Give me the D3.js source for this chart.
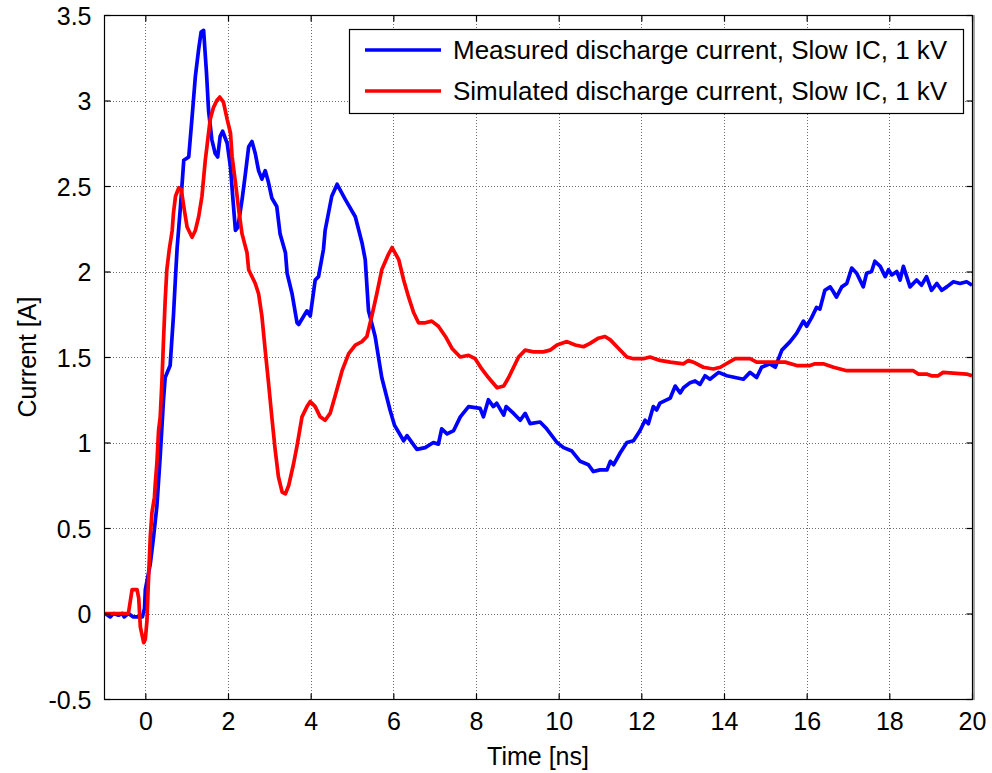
<!DOCTYPE html>
<html>
<head>
<meta charset="utf-8">
<script src="https://cdn.jsdelivr.net/npm/d3@7"></script>
<style>
  html, body { margin: 0; padding: 0; background: #fff; }
  svg { display: block; }
  text { font-family: "Liberation Sans", Arial, Helvetica, sans-serif; fill: #000; }
</style>
</head>
<body>
<svg id="chart" width="992" height="773"></svg>
<script>
// ---- data ----
const measuredTime = [-0.97,-0.85,-0.77,-0.65,-0.56,-0.51,-0.41,-0.29,-0.17,-0.07,-0.02,0.0,0.12,0.2,0.28,0.36,0.44,0.48,0.6,0.68,0.73,0.77,0.85,0.93,1.05,1.13,1.21,1.29,1.35,1.41,1.48,1.53,1.61,1.69,1.75,1.81,1.87,1.98,2.06,2.12,2.18,2.24,2.34,2.42,2.5,2.58,2.66,2.74,2.82,2.9,2.98,3.06,3.18,3.26,3.39,3.43,3.55,3.67,3.71,3.91,3.99,4.11,4.19,4.31,4.35,4.51,4.64,4.84,5.08,5.24,5.32,5.4,5.56,5.72,5.92,6.03,6.25,6.33,6.57,6.77,6.97,7.09,7.17,7.3,7.46,7.62,7.82,8.1,8.18,8.3,8.42,8.5,8.67,8.73,8.91,9.07,9.19,9.31,9.55,9.71,9.96,10.12,10.32,10.52,10.72,10.84,11.0,11.17,11.25,11.33,11.49,11.65,11.81,11.97,12.09,12.17,12.29,12.37,12.45,12.7,12.82,12.94,13.02,13.18,13.3,13.42,13.54,13.66,13.87,14.07,14.27,14.47,14.63,14.79,14.91,15.11,15.24,15.4,15.6,15.76,15.92,16.0,16.12,16.24,16.32,16.44,16.57,16.65,16.72,16.85,16.97,17.09,17.21,17.37,17.45,17.57,17.65,17.78,17.9,17.98,18.06,18.18,18.26,18.34,18.5,18.66,18.78,18.9,19.02,19.15,19.27,19.39,19.55,19.71,19.87,20.0];
const measuredCurrent = [0,-0.02,0,-0.01,0,-0.02,0,-0.02,-0.02,-0.02,0.03,0.14,0.29,0.45,0.63,0.92,1.25,1.38,1.45,1.74,1.97,2.14,2.38,2.65,2.67,2.9,3.14,3.30,3.40,3.41,3.16,2.94,2.77,2.69,2.67,2.79,2.82,2.75,2.61,2.42,2.24,2.26,2.42,2.57,2.73,2.76,2.69,2.59,2.54,2.59,2.52,2.43,2.38,2.22,2.11,1.99,1.87,1.70,1.69,1.77,1.74,1.95,1.97,2.13,2.24,2.44,2.51,2.42,2.32,2.17,2.07,1.77,1.62,1.38,1.19,1.10,1.01,1.04,0.96,0.97,1.0,0.99,1.08,1.05,1.07,1.15,1.21,1.2,1.15,1.25,1.21,1.23,1.16,1.21,1.17,1.13,1.17,1.11,1.12,1.08,1.0,0.97,0.95,0.89,0.87,0.83,0.84,0.84,0.89,0.87,0.94,1.0,1.01,1.07,1.13,1.11,1.21,1.19,1.23,1.26,1.33,1.29,1.32,1.35,1.36,1.34,1.39,1.37,1.41,1.39,1.38,1.37,1.41,1.38,1.44,1.46,1.44,1.54,1.59,1.64,1.71,1.68,1.73,1.79,1.78,1.89,1.91,1.88,1.85,1.91,1.93,2.02,1.99,1.91,1.99,2.0,2.06,2.03,1.97,2.01,1.98,2.0,1.95,2.03,1.91,1.95,1.92,1.97,1.89,1.93,1.89,1.91,1.94,1.93,1.94,1.92];

const simulatedTime = [-1.0,-0.41,-0.32,-0.2,-0.16,-0.12,-0.04,0.0,0.04,0.07,0.12,0.16,0.22,0.24,0.28,0.32,0.36,0.4,0.44,0.48,0.52,0.58,0.65,0.68,0.73,0.81,0.87,0.93,1.01,1.13,1.21,1.29,1.37,1.45,1.53,1.57,1.65,1.73,1.8,1.89,1.98,2.06,2.1,2.18,2.26,2.34,2.46,2.5,2.66,2.74,2.82,2.9,2.98,3.06,3.14,3.22,3.31,3.39,3.47,3.59,3.67,3.79,3.91,3.99,4.11,4.23,4.35,4.47,4.59,4.76,4.92,5.08,5.24,5.36,5.48,5.6,5.72,5.88,5.97,6.13,6.25,6.37,6.49,6.61,6.77,6.93,7.09,7.26,7.42,7.62,7.82,7.98,8.14,8.3,8.51,8.67,8.79,8.91,9.03,9.19,9.39,9.63,9.79,9.96,10.2,10.4,10.6,10.76,10.96,11.12,11.25,11.45,11.65,11.81,12.05,12.21,12.45,12.7,13.02,13.14,13.26,13.5,13.74,13.91,14.27,14.63,14.79,15.28,15.48,15.76,16.08,16.2,16.4,16.65,16.97,17.53,18.58,18.7,18.9,19.02,19.18,19.3,19.87,20.0];
const simulatedCurrent = [0,0,0.14,0.14,0.09,-0.08,-0.17,-0.15,-0.04,0.16,0.45,0.59,0.68,0.76,0.88,1.07,1.15,1.35,1.6,1.83,2.01,2.13,2.24,2.34,2.44,2.49,2.48,2.38,2.26,2.2,2.24,2.32,2.44,2.65,2.81,2.89,2.96,3.0,3.02,2.99,2.89,2.81,2.67,2.52,2.36,2.22,2.11,2.01,1.93,1.87,1.74,1.54,1.35,1.15,0.96,0.8,0.71,0.7,0.75,0.88,0.98,1.15,1.21,1.24,1.21,1.15,1.13,1.17,1.27,1.42,1.52,1.57,1.59,1.62,1.74,1.87,2.01,2.1,2.14,2.07,1.95,1.85,1.76,1.70,1.70,1.71,1.68,1.62,1.55,1.5,1.51,1.49,1.43,1.38,1.32,1.33,1.38,1.44,1.5,1.54,1.53,1.53,1.54,1.57,1.59,1.57,1.56,1.58,1.61,1.62,1.6,1.55,1.5,1.49,1.49,1.5,1.48,1.47,1.46,1.48,1.47,1.44,1.43,1.44,1.49,1.49,1.47,1.47,1.47,1.45,1.45,1.46,1.46,1.44,1.42,1.42,1.42,1.4,1.4,1.39,1.39,1.41,1.4,1.39];

const xTicks = [0, 2, 4, 6, 8, 10, 12, 14, 16, 18, 20];
const yTicks = [-0.5, 0, 0.5, 1, 1.5, 2, 2.5, 3, 3.5];
const yTickLabels = ["-0.5", "0", "0.5", "1", "1.5", "2", "2.5", "3", "3.5"];
const seriesNames = ["Measured discharge current, Slow IC, 1 kV", "Simulated discharge current, Slow IC, 1 kV"];
const seriesColors = ["#0000ff", "#ff0000"];
const xLabel = "Time [ns]";
const yLabel = "Current [A]";

// ---- layout ----
const plot = { left: 104, right: 972, top: 15, bottom: 699 };
const svg = d3.select("#chart");
svg.append("rect").attr("width", 992).attr("height", 773).attr("fill", "#fff");

const x = d3.scaleLinear().domain([-1, 20]).range([plot.left, plot.right]);
const y = d3.scaleLinear().domain([-0.5, 3.5]).range([plot.bottom, plot.top]);

svg.append("defs").append("clipPath").attr("id", "clip")
  .append("rect").attr("x", plot.left).attr("y", plot.top)
  .attr("width", plot.right - plot.left).attr("height", plot.bottom - plot.top);

// grid
const grid = svg.append("g").attr("stroke", "#6e6e6e").attr("stroke-width", 1).attr("stroke-dasharray", "1,2");
grid.selectAll("line.vx").data(xTicks).enter().append("line")
  .attr("x1", d => Math.round(x(d)) + 0.5).attr("x2", d => Math.round(x(d)) + 0.5)
  .attr("y1", plot.top).attr("y2", plot.bottom);
grid.selectAll("line.hy").data(yTicks).enter().append("line")
  .attr("y1", d => Math.round(y(d)) + 0.5).attr("y2", d => Math.round(y(d)) + 0.5)
  .attr("x1", plot.left).attr("x2", plot.right);

// series
const series = [
  measuredTime.map((t, i) => [t, measuredCurrent[i]]),
  simulatedTime.map((t, i) => [t, simulatedCurrent[i]])
];
const line = d3.line().x(d => x(d[0])).y(d => y(d[1]));
const lines = svg.append("g").attr("clip-path", "url(#clip)");
series.forEach((s, i) => {
  lines.append("path").datum(s).attr("d", line)
    .attr("fill", "none").attr("stroke", seriesColors[i])
    .attr("stroke-width", 3.7).attr("stroke-linejoin", "round");
});

// axes box
svg.append("rect").attr("x", plot.left + 0.5).attr("y", plot.top + 0.5)
  .attr("width", plot.right - plot.left).attr("height", plot.bottom - plot.top)
  .attr("fill", "none").attr("stroke", "#000").attr("stroke-width", 1.2);
svg.append("line").attr("x1", plot.right + 2).attr("x2", plot.right + 2)
  .attr("y1", plot.top).attr("y2", plot.bottom + 1).attr("stroke", "#555").attr("stroke-width", 1);

// inward ticks via d3 axes
const tl = 6;
const axB = svg.append("g").attr("transform", `translate(0,${plot.bottom + 0.5})`)
  .call(d3.axisBottom(x).tickValues(xTicks).tickSize(-tl).tickFormat(d3.format("d")));
const axT = svg.append("g").attr("transform", `translate(0,${plot.top + 0.5})`)
  .call(d3.axisTop(x).tickValues(xTicks).tickSize(-tl).tickFormat(""));
const axL = svg.append("g").attr("transform", `translate(${plot.left + 0.5},0)`)
  .call(d3.axisLeft(y).tickValues(yTicks).tickSize(-tl).tickFormat((d, i) => yTickLabels[i]));
const axR = svg.append("g").attr("transform", `translate(${plot.right + 0.5},0)`)
  .call(d3.axisRight(y).tickValues(yTicks).tickSize(-tl).tickFormat(""));
[axB, axT, axL, axR].forEach(a => {
  a.select(".domain").remove();
  a.selectAll(".tick line").attr("stroke", "#000").attr("stroke-width", 1.2);
  a.selectAll("text").style("font-family", "'Liberation Sans', Arial, sans-serif").style("font-size", "25px").attr("fill", "#000");
});
axB.selectAll("text").attr("y", 13).attr("dy", "0.71em");
axL.selectAll("text").attr("x", -13).attr("dy", "0.36em");

// axis labels
svg.append("text").attr("x", (plot.left + plot.right) / 2).attr("y", 765)
  .attr("text-anchor", "middle").style("font-size", "25px").text(xLabel);
svg.append("text").attr("transform", `translate(36,${(plot.top + plot.bottom) / 2}) rotate(-90)`)
  .attr("text-anchor", "middle").style("font-size", "25px").text(yLabel);

// legend
const lg = svg.append("g");
lg.append("rect").attr("x", 349.5).attr("y", 29.5).attr("width", 614).attr("height", 84)
  .attr("fill", "#fff").attr("stroke", "#000").attr("stroke-width", 1.2);
const legendY = [50, 91];
seriesNames.forEach((n, i) => {
  lg.append("line").attr("x1", 365).attr("x2", 441).attr("y1", legendY[i]).attr("y2", legendY[i])
    .attr("stroke", seriesColors[i]).attr("stroke-width", 3.7);
  lg.append("text").attr("x", 453).attr("y", legendY[i]).attr("dy", "0.36em")
    .style("font-size", "26px").text(n);
});
</script>
</body>
</html>
